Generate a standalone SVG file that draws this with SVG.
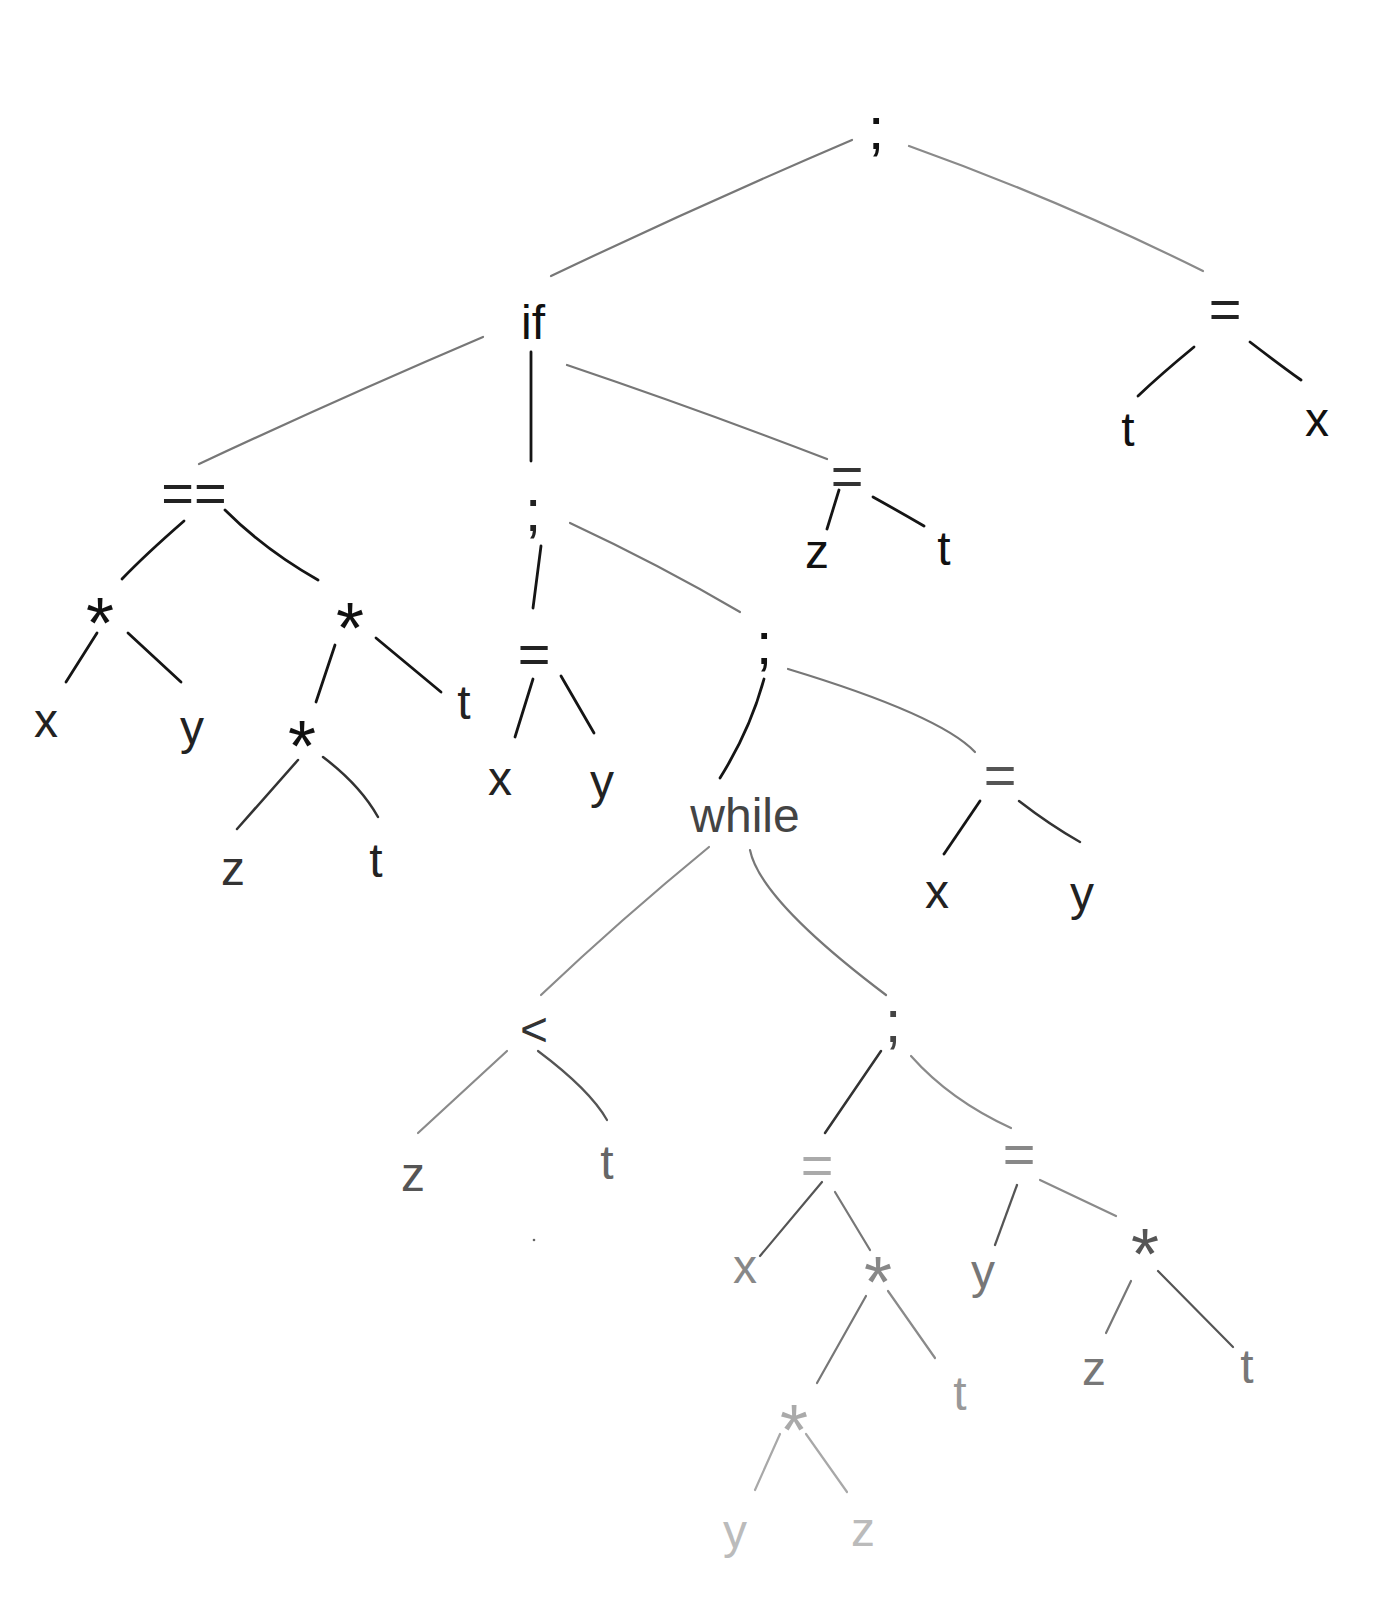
<svg xmlns="http://www.w3.org/2000/svg" width="1376" height="1600" viewBox="0 0 1376 1600">
<style>
text{font-family:"Liberation Sans","DejaVu Sans",sans-serif;font-size:48px;text-anchor:middle;dominant-baseline:central}
.ast{font-size:72px}
.sc{font-size:60px}
.eq{font-size:56px}
.e{fill:none;stroke-linecap:round;stroke-width:2.2}
.k{stroke:#151515;stroke-width:2.8}
.d{stroke:#333;stroke-width:2.5}
.m{stroke:#555}
.g{stroke:#777}
.l{stroke:#8a8a8a}
.v{stroke:#a8a8a8}
</style>
<rect width="1376" height="1600" fill="#fff"/>
<g id="connectors">
<path class="e g" d="M852,140 Q700,205 551,276"/>
<path class="e l" d="M909,146 Q1060,200 1203,271"/>
<path class="e g" d="M483,337 Q340,398 199,464"/>
<path class="e k" d="M531,352 L531,461"/>
<path class="e g" d="M567,365 Q700,410 827,459"/>
<path class="e k" d="M1194,347 Q1160,375 1138,396"/>
<path class="e k" d="M1250,342 Q1280,365 1301,380"/>
<path class="e k" d="M839,490 L827,529"/>
<path class="e k" d="M873,497 Q900,512 924,526"/>
<path class="e k" d="M184,521 Q145,555 122,579"/>
<path class="e k" d="M225,510 Q265,550 318,580"/>
<path class="e k" d="M97,633 L66,682"/>
<path class="e k" d="M128,633 L181,682"/>
<path class="e k" d="M335,645 L316,702"/>
<path class="e k" d="M376,638 L441,692"/>
<path class="e d" d="M298,760 L237,829"/>
<path class="e d" d="M323,757 Q360,785 378,817"/>
<path class="e k" d="M541,546 L533,608"/>
<path class="e g" d="M570,523 Q660,565 740,612"/>
<path class="e k" d="M533,679 L515,737"/>
<path class="e k" d="M561,676 L594,733"/>
<path class="e k" d="M764,679 Q750,730 720,778"/>
<path class="e g" d="M788,669 Q940,715 975,752"/>
<path class="e k" d="M980,801 L944,854"/>
<path class="e d" d="M1019,801 Q1050,825 1080,842"/>
<path class="e l" d="M709,847 Q620,920 541,995"/>
<path class="e g" d="M750,850 Q760,900 886,995"/>
<path class="e l" d="M507,1051 L418,1133"/>
<path class="e m" d="M538,1051 Q590,1090 607,1120"/>
<path class="e d" d="M881,1051 L825,1133"/>
<path class="e l" d="M911,1056 Q950,1100 1011,1128"/>
<path class="e m" d="M822,1182 L760,1256"/>
<path class="e g" d="M835,1192 L870,1250"/>
<path class="e m" d="M1017,1185 L995,1245"/>
<path class="e l" d="M1040,1180 L1116,1216"/>
<path class="e g" d="M1131,1281 L1106,1333"/>
<path class="e m" d="M1158,1271 L1233,1347"/>
<path class="e g" d="M866,1296 L817,1383"/>
<path class="e l" d="M888,1291 L935,1358"/>
<path class="e v" d="M780,1434 L755,1490"/>
<path class="e v" d="M806,1434 L847,1492"/>
<circle cx="534" cy="1240" r="1.3" fill="#666"/>
</g>
<g id="n1"><text class="sc" x="876" y="128" fill="#111">;</text></g>
<g id="n2"><text x="533" y="322" fill="#111">if</text></g>
<g id="n3"><text class="eq" x="1225" y="308" fill="#222">=</text></g>
<g id="n4"><text x="1128" y="429" fill="#111">t</text></g>
<g id="n5"><text x="1317" y="419" fill="#111">x</text></g>
<g id="n6"><text class="eq" x="194" y="492" fill="#222">==</text></g>
<g id="n7"><text class="sc" x="533" y="510" fill="#222">;</text></g>
<g id="n8"><text class="eq" x="847" y="475" fill="#333">=</text></g>
<g id="n9"><text x="817" y="551" fill="#111">z</text></g>
<g id="n10"><text x="944" y="548" fill="#111">t</text></g>
<g id="n11"><text class="ast" x="100" y="607" dy="16" fill="#111">*</text></g>
<g id="n12"><text class="ast" x="350" y="612" dy="16" fill="#111">*</text></g>
<g id="n13"><text x="46" y="720" fill="#222">x</text></g>
<g id="n14"><text x="192" y="727" fill="#222">y</text></g>
<g id="n15"><text class="ast" x="302" y="730" dy="16" fill="#111">*</text></g>
<g id="n16"><text x="464" y="702" fill="#222">t</text></g>
<g id="n17"><text x="233" y="868" fill="#333">z</text></g>
<g id="n18"><text x="376" y="860" fill="#222">t</text></g>
<g id="n19"><text class="eq" x="534" y="653" fill="#222">=</text></g>
<g id="n20"><text x="500" y="778" fill="#222">x</text></g>
<g id="n21"><text x="602" y="781" fill="#222">y</text></g>
<g id="n22"><text class="sc" x="764" y="643" fill="#111">;</text></g>
<g id="n23"><text x="745" y="815" fill="#444">while</text></g>
<g id="n24"><text class="eq" x="1000" y="774" fill="#555">=</text></g>
<g id="n25"><text x="937" y="891" fill="#222">x</text></g>
<g id="n26"><text x="1082" y="893" fill="#222">y</text></g>
<g id="n27"><text x="534" y="1029" fill="#333">&lt;</text></g>
<g id="n28"><text class="sc" x="893" y="1021" fill="#444">;</text></g>
<g id="n29"><text x="413" y="1174" fill="#555">z</text></g>
<g id="n30"><text x="607" y="1162" fill="#666">t</text></g>
<g id="n31"><text class="eq" x="817" y="1164" fill="#aaa">=</text></g>
<g id="n32"><text class="eq" x="1019" y="1153" fill="#888">=</text></g>
<g id="n33"><text x="745" y="1266" fill="#888">x</text></g>
<g id="n34"><text class="ast" x="878" y="1266" dy="16" fill="#888">*</text></g>
<g id="n35"><text x="983" y="1271" fill="#777">y</text></g>
<g id="n36"><text class="ast" x="1145" y="1238" dy="16" fill="#555">*</text></g>
<g id="n37"><text class="ast" x="794" y="1414" dy="16" fill="#aaa">*</text></g>
<g id="n38"><text x="960" y="1393" fill="#999">t</text></g>
<g id="n39"><text x="1094" y="1368" fill="#777">z</text></g>
<g id="n40"><text x="1247" y="1366" fill="#777">t</text></g>
<g id="n41"><text x="735" y="1531" fill="#bbb">y</text></g>
<g id="n42"><text x="863" y="1529" fill="#bbb">z</text></g>
</svg>
